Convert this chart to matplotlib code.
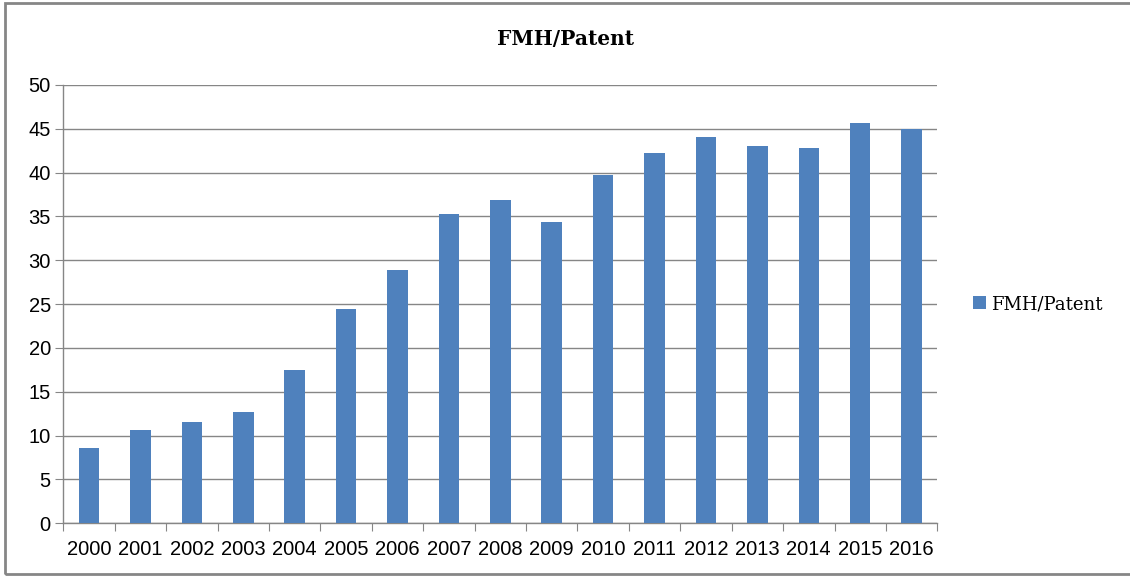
import matplotlib.pyplot as plt
from matplotlib.patches import Rectangle

# data
years = [str(y) for y in range(2000, 2017)]
fmh_patent = [8.56, 10.61, 11.52, 12.66, 17.49, 24.41, 28.94, 35.25, 36.84,
              34.33, 39.77, 42.28, 44.03, 43.00, 42.85, 45.63, 45.02]

bar_color = '#4F81BD'
line_gray = '#868686'

fig = plt.figure(figsize=(11.3, 5.76), dpi=100)
ax = fig.add_axes([0.056, 0.0915, 0.7735, 0.761])

x = range(len(years))
ax.bar(x, fmh_patent, width=0.4, color=bar_color, label='FMH/Patent', zorder=3)

ax.set_xlim(-0.5, len(years) - 0.5)
ax.set_ylim(0, 50)
ax.set_yticks(range(0, 51, 5))
ax.grid(axis='y', color=line_gray, linewidth=1, zorder=0)

# category ticks sit between the bars
ax.set_xticks([i - 0.5 for i in range(len(years) + 1)], minor=False)
ax.set_xticklabels([])
ax.set_xticks(list(x), minor=True)
ax.set_xticklabels(years, minor=True)
ax.tick_params(axis='x', which='major', length=6, color=line_gray, direction='out')
ax.tick_params(axis='x', which='minor', length=0, pad=12)
ax.tick_params(axis='y', length=6, color=line_gray, pad=3)

for lab in ax.get_xticklabels(minor=True) + ax.get_yticklabels():
    lab.set_fontfamily('Liberation Sans')
    lab.set_fontsize(14.5)
    lab.set_color('#000000')

for side in ['top', 'right']:
    ax.spines[side].set_visible(False)
for side in ['left', 'bottom']:
    ax.spines[side].set_color(line_gray)
    ax.spines[side].set_linewidth(1)

fig.text(0.5, 0.932, 'FMH/Patent', ha='center', va='center',
         fontfamily='DejaVu Serif', fontweight='bold', fontsize=14.5)

leg = ax.legend(loc='center left', bbox_to_anchor=(1.0, 0.5), frameon=False,
                prop={'family': 'DejaVu Serif', 'size': 13},
                handlelength=0.7, handleheight=0.7, handletextpad=0.3,
                borderaxespad=1.6)

# outer chart border (right edge runs off the picture)
fig.patches.append(Rectangle((5 / 1130, 2 / 576), 1.1, 1 - 5 / 576,
                             transform=fig.transFigure, fill=False,
                             edgecolor=line_gray, linewidth=2))

fig.savefig('out.png', dpi=100)
